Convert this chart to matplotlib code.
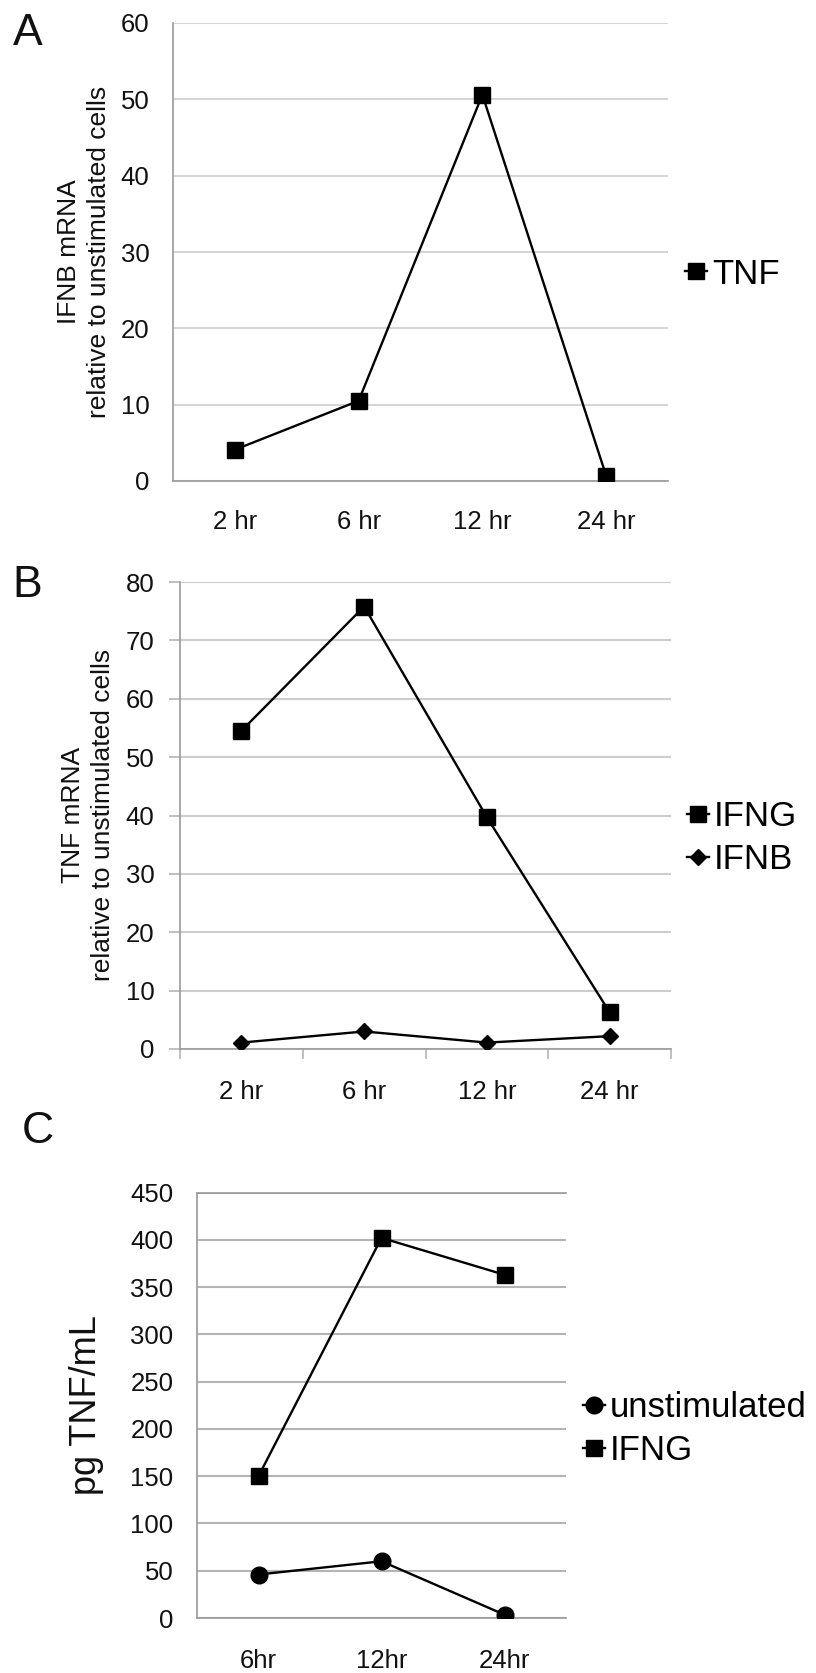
import matplotlib
matplotlib.use("Agg")
import matplotlib.pyplot as plt

plt.rcParams['font.family'] = ['Liberation Sans', 'DejaVu Sans']

# ---------------- data ----------------
a_categories = ["2 hr", "6 hr", "12 hr", "24 hr"]
a_tnf = [4.1, 10.5, 50.6, 0.7]
a_yticks = [0, 10, 20, 30, 40, 50, 60]

b_categories = ["2 hr", "6 hr", "12 hr", "24 hr"]
b_ifng = [54.5, 75.8, 39.7, 6.3]
b_ifnb = [1.1, 3.0, 1.1, 2.2]
b_yticks = [0, 10, 20, 30, 40, 50, 60, 70, 80]

c_categories = ["6hr", "12hr", "24hr"]
c_unstim = [46, 60, 3.5]
c_ifng = [150, 402, 363]
c_yticks = [0, 50, 100, 150, 200, 250, 300, 350, 400, 450]

W, H = 816, 1673
fig = plt.figure(figsize=(W / 100, H / 100), dpi=100)


def fx(px):
    return px / W


def fy(py):
    return 1 - py / H


def axes_px(x0, y0, x1, y1):
    return fig.add_axes([fx(x0), fy(y1), (x1 - x0) / W, (y1 - y0) / H])


SPINE = '#9a9a9a'
TXT = '#111111'
TICKFS = 18.5
LEGFS = 25

# ---------------- Panel A ----------------
axA = axes_px(173, 23, 668, 481)
xa = list(range(len(a_categories)))
axA.plot(xa, a_tnf, color='black', lw=1.7, marker='s', ms=11, label='TNF', zorder=3)
axA.set_xlim(-0.5, len(a_categories) - 0.5)
axA.set_ylim(0, 60)
axA.set_yticks(a_yticks)
axA.set_xticks(xa)
axA.set_xticklabels(a_categories)
axA.tick_params(axis='y', length=0, pad=17, labelsize=TICKFS, labelcolor=TXT)
axA.tick_params(axis='x', length=0, pad=21, labelsize=TICKFS, labelcolor=TXT)
axA.yaxis.grid(True, color='#d6d6d6', lw=1.5)
axA.set_axisbelow(True)
for s in ['top', 'right']:
    axA.spines[s].set_visible(False)
for s in ['left', 'bottom']:
    axA.spines[s].set_color(SPINE)
    axA.spines[s].set_linewidth(1.2)
fig.text(fx(84), fy(252), "IFNB mRNA\nrelative to unstimulated cells", rotation=90,
         ha='center', va='center', multialignment='center', fontsize=19, color=TXT,
         linespacing=1.35)
axA.legend(loc='center left', bbox_to_anchor=(fx(685), fy(274)), bbox_transform=fig.transFigure,
           frameon=False, borderpad=0, borderaxespad=0, handlelength=0.63, handletextpad=0.15,
           fontsize=LEGFS, numpoints=1)
fig.text(fx(13), fy(45), "A", fontsize=32, ha='left', va='baseline', color=TXT)

# ---------------- Panel B ----------------
axB = axes_px(180, 582, 671, 1049)
xb = list(range(len(b_categories)))
axB.plot(xb, b_ifng, color='black', lw=1.7, marker='s', ms=11.5, label='IFNG', zorder=3)
axB.plot(xb, b_ifnb, color='black', lw=1.7, marker='D', ms=8, label='IFNB', zorder=3)
axB.set_xlim(-0.5, len(b_categories) - 0.5)
axB.set_ylim(0, 80)
axB.set_yticks(b_yticks)
axB.set_xticks([i - 0.5 for i in range(len(b_categories) + 1)])
axB.set_xticklabels([])
axB.set_xticks(xb, minor=True)
axB.set_xticklabels(b_categories, minor=True)
axB.tick_params(axis='y', length=8, width=1.2, color='#b5b5b5', pad=10.5,
                labelsize=TICKFS, labelcolor=TXT)
axB.tick_params(axis='x', which='major', length=7, width=1.2, color='#b5b5b5')
axB.tick_params(axis='x', which='minor', length=0, pad=22, labelsize=TICKFS, labelcolor=TXT)
axB.yaxis.grid(True, color='#cdcdcd', lw=1.5)
axB.set_axisbelow(True)
for s in ['top', 'right']:
    axB.spines[s].set_visible(False)
for s in ['left', 'bottom']:
    axB.spines[s].set_color(SPINE)
    axB.spines[s].set_linewidth(1.2)
fig.text(fx(88), fy(815), "TNF mRNA\nrelative to unstimulated cells", rotation=90,
         ha='center', va='center', multialignment='center', fontsize=19, color=TXT,
         linespacing=1.35)
axB.legend(loc='center left', bbox_to_anchor=(fx(687), fy(838)), bbox_transform=fig.transFigure,
           frameon=False, borderpad=0, borderaxespad=0, handlelength=0.63, handletextpad=0.15,
           labelspacing=0.3, fontsize=LEGFS, numpoints=1)
fig.text(fx(12), fy(597), "B", fontsize=32, ha='left', va='baseline', color=TXT)

# ---------------- Panel C ----------------
axC = axes_px(197, 1192.5, 566, 1618)
xc = list(range(len(c_categories)))
axC.plot(xc, c_unstim, color='black', lw=1.7, marker='o', ms=12, label='unstimulated', zorder=3)
axC.plot(xc, c_ifng, color='black', lw=1.7, marker='s', ms=12, label='IFNG', zorder=3)
axC.set_xlim(-0.5, len(c_categories) - 0.5)
axC.set_ylim(0, 450)
axC.set_yticks(c_yticks)
axC.set_xticks(xc)
axC.set_xticklabels(c_categories)
axC.tick_params(axis='y', length=0, pad=17, labelsize=TICKFS, labelcolor=TXT)
axC.tick_params(axis='x', length=0, pad=22, labelsize=TICKFS, labelcolor=TXT)
axC.yaxis.grid(True, color='#b4b4b4', lw=1.5)
axC.set_axisbelow(True)
axC.spines['right'].set_visible(False)
for s in ['left', 'bottom', 'top']:
    axC.spines[s].set_color(SPINE)
    axC.spines[s].set_linewidth(1.2)
fig.text(fx(87), fy(1405), "pg TNF/mL", rotation=90, ha='center', va='center',
         fontsize=26, color=TXT)
axC.legend(loc='center left', bbox_to_anchor=(fx(583), fy(1429)), bbox_transform=fig.transFigure,
           frameon=False, borderpad=0, borderaxespad=0, handlelength=0.63, handletextpad=0.15,
           labelspacing=0.3, fontsize=LEGFS, numpoints=1)
fig.text(fx(22), fy(1143), "C", fontsize=32, ha='left', va='baseline', color=TXT)

fig.savefig("out.png", dpi=100, facecolor='white')
